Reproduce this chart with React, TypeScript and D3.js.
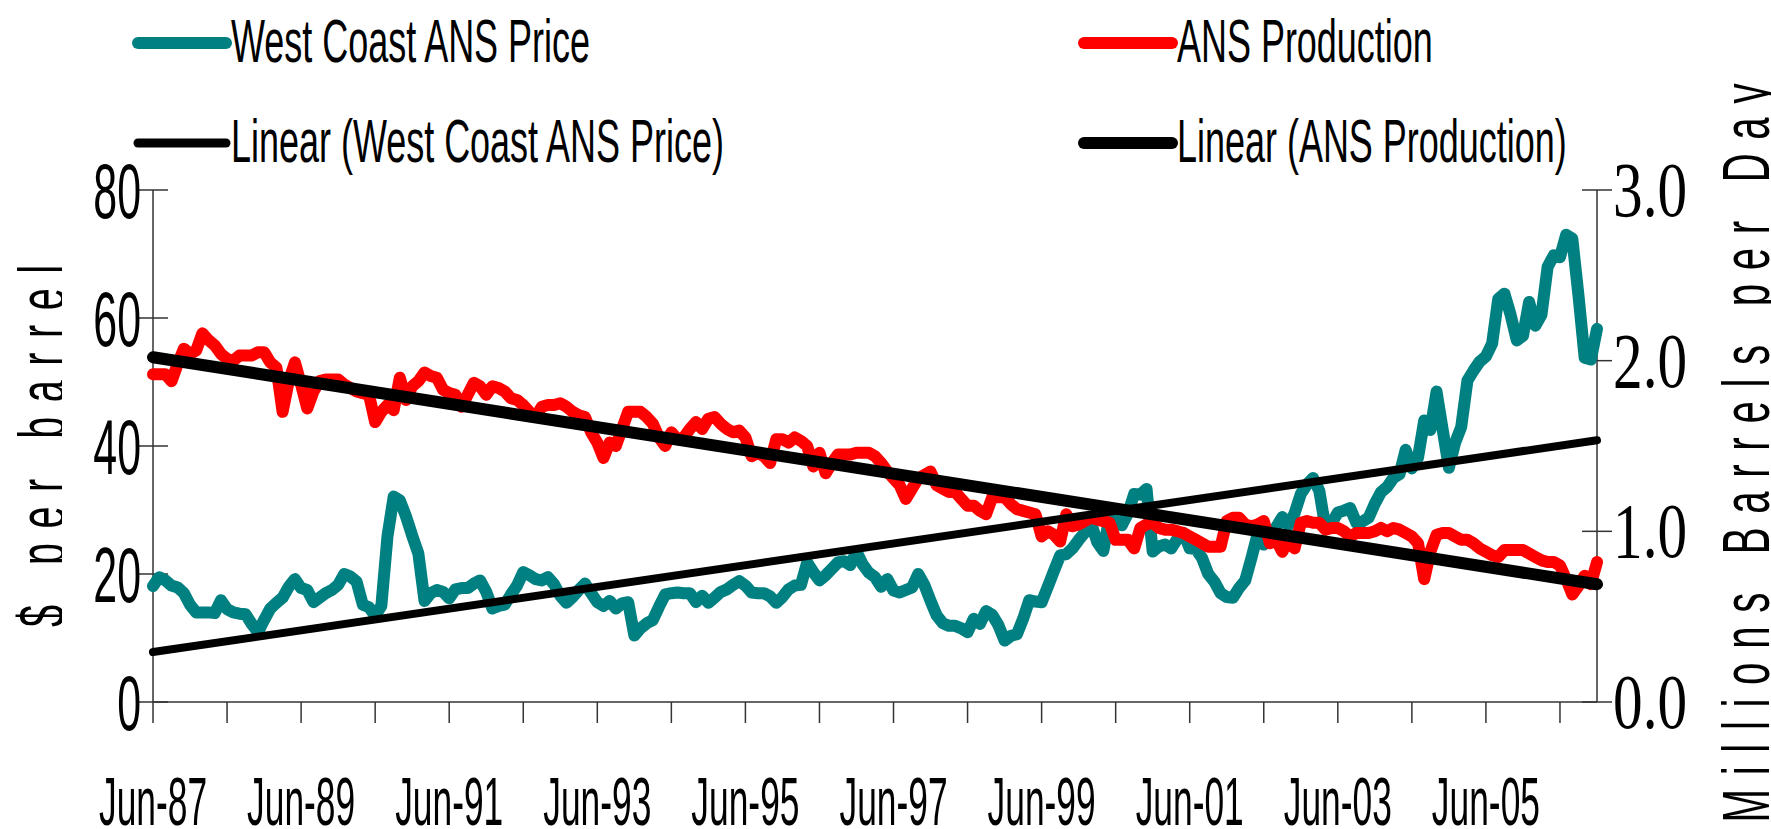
import React from 'react';
import * as d3 from 'd3';

// monthly, Jun-87 .. Dec-06
const priceValues = [
  18.1, 19.5, 19.0, 18.2, 17.9, 17.0, 15.2, 14.0, 14.0, 14.0, 13.9, 15.9,
  14.5, 14.0, 13.8, 13.7, 12.2, 10.9, 12.8, 14.6, 15.5, 16.3, 18.0, 19.2,
  17.8, 17.5, 15.6, 16.3, 17.0, 17.5, 18.3, 20.0, 19.6, 18.8, 15.2, 14.8,
  13.5, 15.0, 25.9, 32.1, 31.5, 29.0, 26.0, 23.2, 15.8, 17.0, 17.5, 17.2,
  16.2, 17.6, 17.8, 17.8, 18.5, 19.0, 17.2, 14.6, 15.0, 15.2, 16.8, 18.2,
  20.3, 19.8, 19.2, 19.0, 19.5, 18.4, 16.6, 15.5, 16.4, 17.5, 18.5, 17.0,
  15.6, 15.0, 15.8, 14.6, 15.4, 15.6, 10.4, 11.5, 12.3, 12.8, 14.9, 16.8,
  17.0, 17.1, 17.0, 17.0, 15.6, 16.6, 15.5, 16.3, 17.2, 17.6, 18.3, 18.9,
  18.2, 17.1, 17.0, 17.0, 16.5, 15.5, 16.4, 17.6, 18.2, 18.3, 21.8, 20.3,
  19.0, 19.8, 20.8, 21.8, 22.0, 21.4, 23.5, 21.5, 20.2, 19.5, 18.0, 19.2,
  17.4, 17.1, 17.5, 17.9, 20.0, 18.3, 15.8, 13.5, 12.3, 11.9, 11.9, 11.5,
  10.9, 13.0, 12.2, 14.2, 13.6, 12.0, 9.6, 10.3, 10.6, 13.0, 15.9, 15.7,
  15.6, 18.0, 20.5, 22.9, 23.1, 24.0, 25.3, 26.5, 28.0, 25.0, 23.6, 29.0,
  28.5, 27.6, 29.5, 32.5, 32.4, 33.3, 23.5, 24.3, 24.6, 24.0, 25.5, 26.4,
  24.0, 23.9, 22.5, 20.0, 18.8, 17.0, 16.4, 16.3, 17.8, 19.0, 22.5, 26.2,
  24.6, 25.8, 27.3, 28.9, 27.6, 29.5, 32.5, 34.0, 35.0, 33.0, 27.2, 28.0,
  29.6, 29.9, 30.3, 28.0, 28.2, 28.8, 31.0, 32.8, 33.6, 35.0, 35.6, 39.4,
  36.5, 38.2, 44.0, 42.5, 48.5, 42.5, 36.6, 40.5, 43.0, 50.2, 51.8, 53.2,
  54.0, 56.0, 63.0, 63.8, 60.5, 56.5, 57.2, 62.5, 58.8, 60.5, 68.0, 69.8,
  69.5, 73.0, 72.4, 63.5, 53.8, 53.5, 58.3,
];

const productionValues = [
  1.92, 1.92, 1.92, 1.88, 1.98, 2.07, 2.04, 2.06, 2.16, 2.12, 2.09, 2.04,
  2.01, 2.00, 2.03, 2.03, 2.03, 2.05, 2.05, 1.99, 1.96, 1.70, 1.88, 1.99,
  1.86, 1.72, 1.82, 1.88, 1.89, 1.89, 1.89, 1.86, 1.84, 1.82, 1.81, 1.80,
  1.64, 1.70, 1.74, 1.71, 1.90, 1.77, 1.85, 1.88, 1.93, 1.91, 1.90, 1.83,
  1.81, 1.80, 1.73, 1.80, 1.87, 1.85, 1.80, 1.85, 1.84, 1.82, 1.78, 1.77,
  1.74, 1.70, 1.67, 1.73, 1.74, 1.74, 1.75, 1.73, 1.70, 1.68, 1.67, 1.58,
  1.52, 1.43, 1.52, 1.50, 1.60, 1.70, 1.70, 1.70, 1.67, 1.63, 1.55, 1.50,
  1.58, 1.54, 1.55, 1.60, 1.64, 1.60, 1.66, 1.67, 1.63, 1.60, 1.58, 1.59,
  1.55, 1.44, 1.46, 1.44, 1.40, 1.54, 1.54, 1.52, 1.55, 1.53, 1.50, 1.38,
  1.46, 1.34, 1.40, 1.45, 1.45, 1.45, 1.46, 1.46, 1.46, 1.44, 1.40, 1.35,
  1.31, 1.27, 1.19, 1.25, 1.31, 1.33, 1.35, 1.27, 1.25, 1.23, 1.23, 1.19,
  1.15, 1.15, 1.12, 1.10, 1.20, 1.20, 1.20, 1.16, 1.13, 1.12, 1.11, 1.10,
  0.97, 1.00, 0.98, 0.94, 1.10, 1.03, 1.04, 1.06, 1.08, 1.07, 1.06, 1.05,
  0.95, 0.95, 0.95, 0.90, 1.02, 1.04, 1.05, 1.02, 1.01, 1.01, 1.00, 0.99,
  0.97, 0.95, 0.93, 0.91, 0.91, 0.91, 1.06, 1.08, 1.08, 1.04, 1.03, 1.04,
  1.06, 0.93, 0.95, 0.88, 0.95, 0.90, 1.05, 1.06, 1.05, 1.05, 1.01, 1.02,
  1.02, 1.00, 0.97, 0.99, 0.99, 0.99, 1.00, 1.02, 1.00, 1.02, 1.01, 0.99,
  0.97, 0.93, 0.72, 0.88, 0.98, 0.99, 0.99, 0.97, 0.95, 0.95, 0.93, 0.90,
  0.88, 0.86, 0.85, 0.89, 0.89, 0.89, 0.89, 0.87, 0.85, 0.83, 0.82, 0.82,
  0.80, 0.72, 0.63, 0.68, 0.74, 0.69, 0.82,
];

// trendline end values (first month, last month)
const priceTrend = [7.8, 40.9];
const productionTrend = [2.02, 0.69];

const leftTicks = [0, 20, 40, 60, 80];
const rightTicks = [0, 1, 2, 3];
const rightTickLabels = ['0.0', '1.0', '2.0', '3.0'];
const xTickLabels = ['Jun-87', 'Jun-89', 'Jun-91', 'Jun-93', 'Jun-95', 'Jun-97', 'Jun-99', 'Jun-01', 'Jun-03', 'Jun-05'];

const W = 1771, H = 829;
const SANS = "'Liberation Sans', Arial, sans-serif";
const SERIF = "'Liberation Serif', 'Times New Roman', serif";

function SText(props: any) {
  const { x, y, sx, size, anchor, family, children } = props;
  return (
    <text transform={`translate(${x},${y}) scale(${sx},1)`} fontSize={size}
      fontFamily={family || SANS} textAnchor={anchor || 'start'} fill="#000">
      {children}
    </text>
  );
}

export default function App() {
  const left = 153, right = 1597, top = 190, bottom = 702;
  const last = priceValues.length - 1;

  const x = d3.scaleLinear().domain([0, last]).range([left, right]);
  const yL = d3.scaleLinear().domain([0, 80]).range([bottom, top]);
  const yR = d3.scaleLinear().domain([0, 3]).range([bottom, top]);

  const priceLine = d3.line<number>().x((_, i) => x(i)).y(d => yL(d));
  const prodLine = d3.line<number>().x((_, i) => x(i)).y(d => yR(d));
  const priceTrendLine = d3.line<number>().x((_, i) => x(i * last)).y(d => yL(d));
  const prodTrendLine = d3.line<number>().x((_, i) => x(i * last)).y(d => yR(d));

  const xTicks = d3.range(0, priceValues.length, 12);
  const axisColor = '#333';

  const legend = [
    { label: 'West Coast ANS Price', color: '#008080', w: 12, x: 138, y: 43 },
    { label: 'ANS Production', color: '#ff0000', w: 12, x: 1084, y: 43 },
    { label: 'Linear (West Coast ANS Price)', color: '#000', w: 9, x: 138, y: 143 },
    { label: 'Linear (ANS Production)', color: '#000', w: 12, x: 1084, y: 143 },
  ];

  return (
    <svg width={W} height={H} style={{ position: 'absolute', left: 0, top: 0, background: '#fff' }}>
      <defs>
        <clipPath id="clipLeftTitle">
          <rect x={0} y={0} width={62} height={H} />
        </clipPath>
      </defs>

      {/* legend */}
      {legend.map(l => (
        <g key={l.label}>
          <line x1={l.x} x2={l.x + 88} y1={l.y} y2={l.y} stroke={l.color}
            strokeWidth={l.w} strokeLinecap="round" />
          <SText x={l.x + 93} y={l.y + 19} sx={0.58} size={62}>{l.label}</SText>
        </g>
      ))}

      {/* left axis */}
      <line x1={left} x2={left} y1={top} y2={bottom} stroke={axisColor} strokeWidth={1.5} />
      {leftTicks.map(t => (
        <g key={'l' + t}>
          <line x1={left - 15} x2={left + 15} y1={yL(t)} y2={yL(t)} stroke={axisColor} strokeWidth={1.5} />
          <SText x={141} y={yL(t) + 28} sx={0.55} size={78} anchor="end">{t}</SText>
        </g>
      ))}

      {/* right axis */}
      <line x1={right} x2={right} y1={top} y2={bottom} stroke={axisColor} strokeWidth={1.5} />
      {rightTicks.map((t, i) => (
        <g key={'r' + t}>
          <line x1={right - 15} x2={right + 15} y1={yR(t)} y2={yR(t)} stroke={axisColor} strokeWidth={1.5} />
          <SText x={1613} y={yR(t) + 26} sx={0.76} size={78} family={SERIF}>{rightTickLabels[i]}</SText>
        </g>
      ))}

      {/* x axis */}
      <line x1={left} x2={right} y1={bottom} y2={bottom} stroke={axisColor} strokeWidth={1.5} />
      {xTicks.map(m => (
        <line key={'x' + m} x1={x(m)} x2={x(m)} y1={bottom} y2={bottom + 21} stroke={axisColor} strokeWidth={1.5} />
      ))}
      {xTicks.filter(m => m % 24 === 0).map((m, i) => (
        <SText key={'xl' + m} x={x(m)} y={825} sx={0.52} size={68} anchor="middle">{xTickLabels[i]}</SText>
      ))}

      {/* axis titles */}
      <g clipPath="url(#clipLeftTitle)">
        <text transform="translate(65,446) rotate(-90) scale(0.6,1)" fontSize={66} fontFamily={SANS}
          textAnchor="middle" textLength={362 / 0.6} lengthAdjust="spacing">$ per barrel</text>
      </g>
      <text transform="translate(1769,453) rotate(-90) scale(0.6,1)" fontSize={67} fontFamily={SANS}
        textAnchor="middle" textLength={739 / 0.6} lengthAdjust="spacing">Millions Barrels per Day</text>

      {/* series */}
      <path d={priceLine(priceValues) || ''} fill="none" stroke="#008080" strokeWidth={12}
        strokeLinejoin="round" strokeLinecap="round" />
      <path d={prodLine(productionValues) || ''} fill="none" stroke="#ff0000" strokeWidth={12}
        strokeLinejoin="round" strokeLinecap="round" />
      <path d={priceTrendLine(priceTrend) || ''} fill="none" stroke="#000" strokeWidth={8} strokeLinecap="round" />
      <path d={prodTrendLine(productionTrend) || ''} fill="none" stroke="#000" strokeWidth={12} strokeLinecap="round" />
    </svg>
  );
}
